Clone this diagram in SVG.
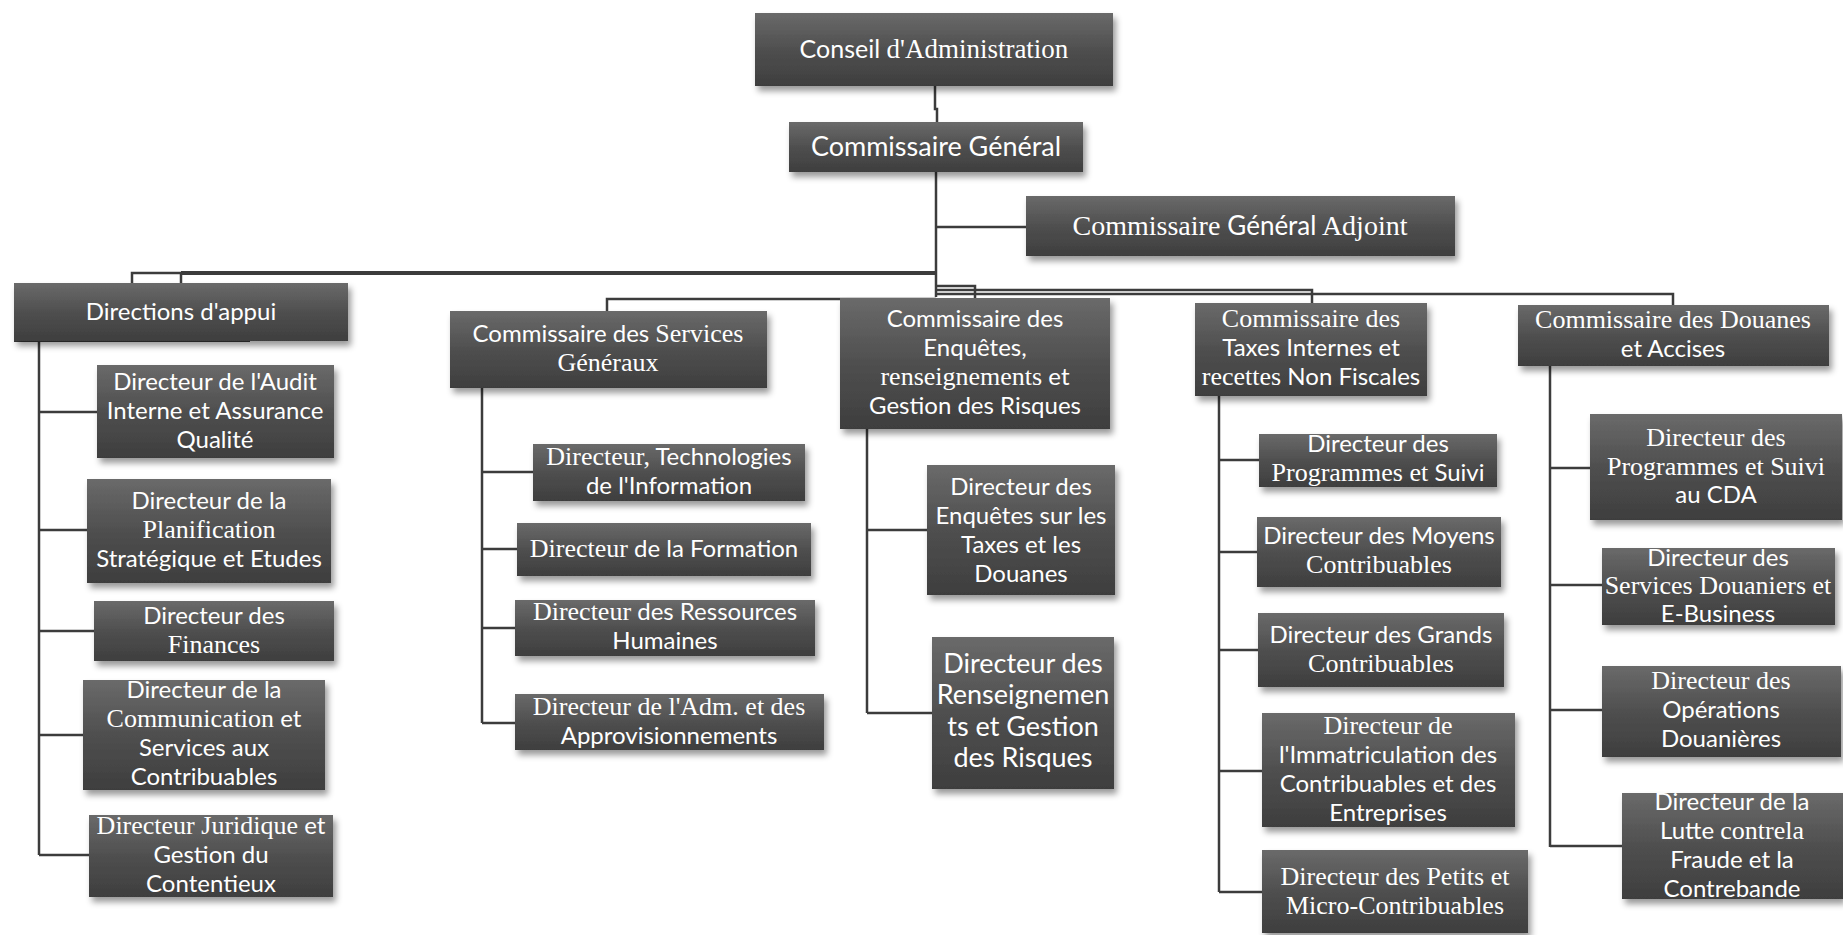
<svg xmlns="http://www.w3.org/2000/svg" width="1843" height="935" viewBox="0 0 1843 935">
<defs>
<linearGradient id="g" x1="0" y1="0" x2="0" y2="1">
<stop offset="0" stop-color="#6a6a6a"/>
<stop offset="0.5" stop-color="#4f4f4f"/>
<stop offset="1" stop-color="#3e3e3e"/>
</linearGradient>
<filter id="sh" x="-10%" y="-10%" width="125%" height="140%">
<feDropShadow dx="3" dy="5" stdDeviation="3" flood-color="#000" flood-opacity="0.4"/>
</filter>
</defs>
<style>
.b{fill:url(#g);filter:url(#sh)}
text{fill:#fff;font-family:Lato,"Liberation Sans",sans-serif;font-size:24px;text-anchor:middle}
.s{font-family:"Liberation Serif","DejaVu Serif",serif;font-size:26px}
.c{fill:none;stroke:#3c3c3c;stroke-width:2.5}
.k{stroke-width:4}
</style>
<rect width="1843" height="935" fill="#fff"/>
<g id="connectors">
<path class="c" d="M935 86V109H937V122"/>
<path class="c" d="M936 172V297"/>
<path class="c" d="M936 227H1026"/>
<path class="c k" d="M936 273H181"/>
<path class="c" d="M181 273H132V283M181 273V283"/>
<path class="c" d="M936 299H607V311"/>
<path class="c" d="M936 286H975V298"/>
<path class="c" d="M936 290H1312V303"/>
<path class="c" d="M936 294H1673V306"/>
<path class="c" d="M39 341V855M39 412H97M39 530H87M39 631H94M39 735H83M39 855H89"/>
<path class="c" d="M482 388V723M482 472H533M482 549H517M482 628H515M482 723H515"/>
<path class="c" d="M867 429V713M867 530H927M867 713H932"/>
<path class="c" d="M1219 396V892M1219 460H1259M1219 552H1257M1219 650H1258M1219 771H1262M1219 892H1262"/>
<path class="c" d="M1550 366V847M1550 468H1590M1550 585H1602M1550 710H1602M1550 846H1622"/>
</g>
<g id="conseil"><rect class="b" x="755" y="13" width="358" height="73"/><text x="934" y="58" style="font-size:25px">Conseil <tspan class="s" style="font-size:27px">d'Administration</tspan></text></g>
<g id="cg"><rect class="b" x="789" y="122" width="294" height="50"/><text x="936" y="156" style="font-size:27px">Commissaire Général</text></g>
<g id="cga"><rect class="b" x="1026" y="196" width="429" height="60"/><text x="1240" y="235" style="font-size:26px"><tspan class="s" style="font-size:28px">Commissaire </tspan>Général<tspan class="s" style="font-size:28px"> Adjoint</tspan></text></g>
<g id="directions"><rect x="14" y="336" width="236" height="6" fill="#3a3a3a"/><rect class="b" x="14" y="283" width="334" height="58"/><text x="181" y="320">Directions d'appui</text></g>
<g id="audit"><rect class="b" x="97" y="365" width="237" height="93"/><text x="215" y="390">Directeur de l'Audit</text><text x="215" y="419">Interne et Assurance</text><text x="215" y="448">Qualité</text></g>
<g id="planif"><rect class="b" x="87" y="479" width="244" height="104"/><text x="209" y="509">Directeur de la</text><text x="209" y="538" class="s">Planification</text><text x="209" y="567">Stratégique et Etudes</text></g>
<g id="finances"><rect class="b" x="94" y="601" width="240" height="60"/><text x="214" y="624">Directeur des</text><text x="214" y="653" class="s">Finances</text></g>
<g id="communication"><rect class="b" x="83" y="680" width="242" height="110"/><text x="204" y="698">Directeur de la</text><text x="204" y="727"><tspan class="s">Communication</tspan> et</text><text x="204" y="756">Services aux</text><text x="204" y="785">Contribuables</text></g>
<g id="juridique"><rect class="b" x="89" y="815" width="244" height="82"/><text x="211" y="834"><tspan class="s">Directeur Juridique</tspan> et</text><text x="211" y="863">Gestion du</text><text x="211" y="892">Contentieux</text></g>
<g id="sg"><rect class="b" x="450" y="311" width="317" height="77"/><text x="608" y="342">Commissaire des <tspan class="s">Services</tspan></text><text x="608" y="371" class="s">Généraux</text></g>
<g id="tech"><rect class="b" x="533" y="444" width="272" height="57"/><text x="669" y="465"><tspan class="s">Directeur,</tspan> Technologies</text><text x="669" y="494">de l'Information</text></g>
<g id="formation"><rect class="b" x="517" y="523" width="294" height="53"/><text x="664" y="557"><tspan class="s">Directeur</tspan> de la Formation</text></g>
<g id="rh"><rect class="b" x="515" y="600" width="300" height="56"/><text x="665" y="620"><tspan class="s">Directeur</tspan> des Ressources</text><text x="665" y="649">Humaines</text></g>
<g id="adm"><rect class="b" x="515" y="694" width="309" height="56"/><text x="669" y="715" class="s">Directeur de l'Adm. et des</text><text x="669" y="744">Approvisionnements</text></g>
<g id="enq-comm"><rect class="b" x="840" y="298" width="270" height="131"/><text x="975" y="327">Commissaire des</text><text x="975" y="356">Enquêtes,</text><text x="975" y="385"><tspan class="s">renseignements</tspan> et</text><text x="975" y="414">Gestion des Risques</text></g>
<g id="enq-taxes"><rect class="b" x="927" y="465" width="188" height="130"/><text x="1021" y="495">Directeur des</text><text x="1021" y="524">Enquêtes sur les</text><text x="1021" y="553">Taxes et les</text><text x="1021" y="582">Douanes</text></g>
<g id="renseignements"><rect class="b" x="932" y="637" width="182" height="152"/><g style="font-size:27px"><text x="1023" y="673" style="font-size:27px">Directeur des</text><text x="1023" y="704" style="font-size:27px">Renseignemen</text><text x="1023" y="736" style="font-size:27px">ts et Gestion</text><text x="1023" y="767" style="font-size:27px">des Risques</text></g></g>
<g id="taxes-comm"><rect class="b" x="1195" y="303" width="232" height="93"/><text x="1311" y="327" class="s">Commissaire des</text><text x="1311" y="356">Taxes Internes et</text><text x="1311" y="385"><tspan class="s">recettes</tspan> Non Fiscales</text></g>
<g id="tx-prog"><rect class="b" x="1259" y="434" width="238" height="53"/><text x="1378" y="452">Directeur des</text><text x="1378" y="481"><tspan class="s">Programmes et</tspan> Suivi</text></g>
<g id="moyens"><rect class="b" x="1257" y="517" width="244" height="70"/><text x="1379" y="544">Directeur des Moyens</text><text x="1379" y="573" class="s">Contribuables</text></g>
<g id="grands"><rect class="b" x="1258" y="613" width="246" height="74"/><text x="1381" y="643">Directeur des Grands</text><text x="1381" y="672" class="s">Contribuables</text></g>
<g id="immat"><rect class="b" x="1262" y="713" width="253" height="114"/><text x="1388" y="734" class="s">Directeur de</text><text x="1388" y="763">l'Immatriculation des</text><text x="1388" y="792">Contribuables et des</text><text x="1388" y="821">Entreprises</text></g>
<g id="petits"><rect class="b" x="1262" y="850" width="266" height="83"/><text x="1395" y="885" class="s">Directeur des Petits et</text><text x="1395" y="914" class="s">Micro-Contribuables</text></g>
<g id="dou-comm"><rect class="b" x="1518" y="305" width="311" height="61"/><text x="1673" y="328" class="s">Commissaire des Douanes</text><text x="1673" y="357">et Accises</text></g>
<g id="dou-prog"><rect class="b" x="1590" y="414" width="252" height="106"/><text x="1716" y="446" class="s">Directeur des</text><text x="1716" y="475" class="s">Programmes et Suivi</text><text x="1716" y="503">au CDA</text></g>
<g id="services"><rect class="b" x="1602" y="548" width="233" height="77"/><text x="1718" y="566">Directeur des</text><text x="1718" y="594" class="s">Services Douaniers et</text><text x="1718" y="622">E-Business</text></g>
<g id="operations"><rect class="b" x="1602" y="666" width="239" height="91"/><text x="1721" y="689" class="s">Directeur des</text><text x="1721" y="718">Opérations</text><text x="1721" y="747">Douanières</text></g>
<g id="lutte"><rect class="b" x="1622" y="793" width="221" height="106"/><text x="1732" y="810">Directeur de la</text><text x="1732" y="839">Lutte <tspan class="s">contrela</tspan></text><text x="1732" y="868">Fraude et la</text><text x="1732" y="897">Contrebande</text></g>
</svg>
